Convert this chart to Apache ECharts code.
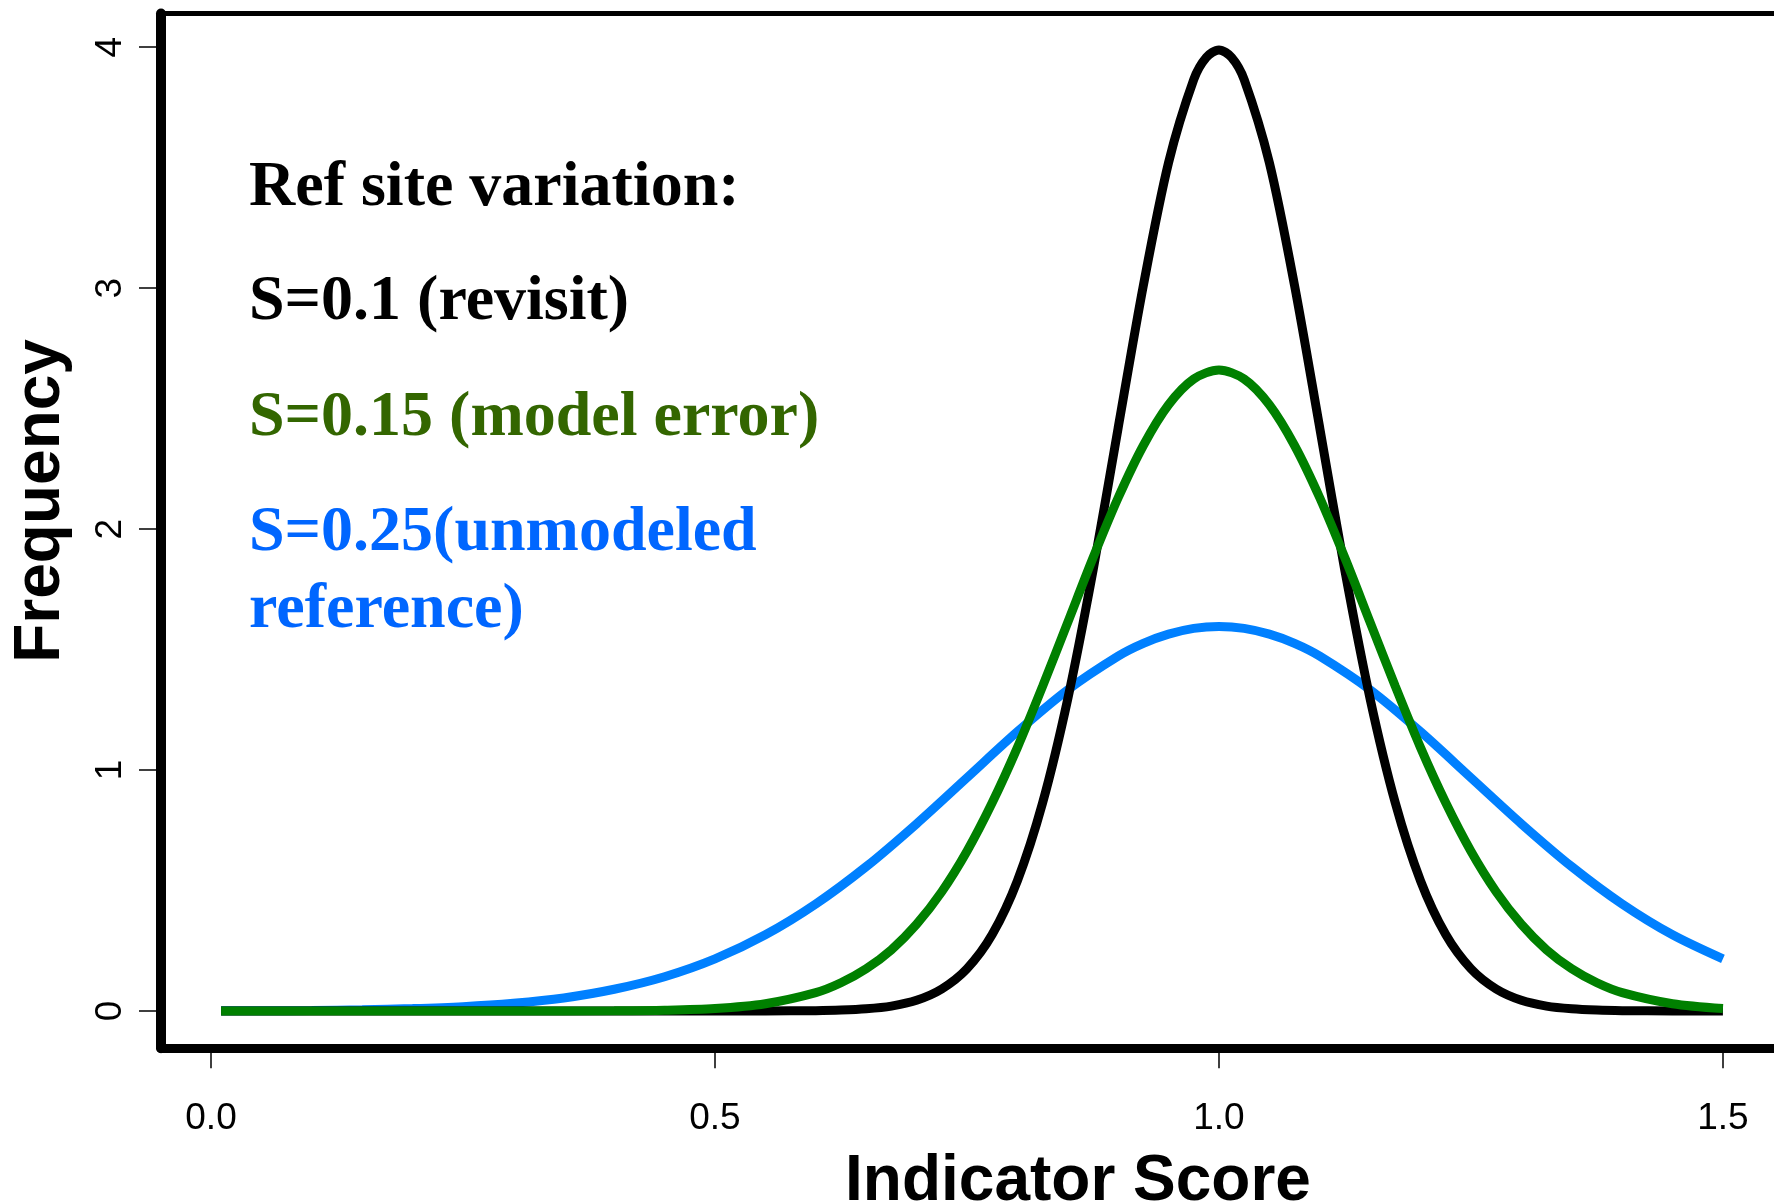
<!DOCTYPE html>
<html>
<head>
<meta charset="utf-8">
<script src="https://cdn.jsdelivr.net/npm/echarts@6/dist/echarts.min.js"></script>
<style>
html,body{margin:0;padding:0;background:#fff;}
#main{width:1774px;height:1201px;}
</style>
</head>
<body>
<div id="main"></div>
<script>
// ---- data ----
var xTicks = [0, 0.5, 1.0, 1.5];
var yTicks = [0, 1, 2, 3, 4];

// S = 0.25 (blue)
var blueX = [0.01, 0.05, 0.10, 0.15, 0.20, 0.25, 0.30, 0.35, 0.40, 0.45, 0.50, 0.55, 0.60, 0.65, 0.70, 0.75, 0.80, 0.85, 0.90, 0.925, 0.95, 0.975, 1.00,
             1.025, 1.05, 1.075, 1.10, 1.15, 1.20, 1.25, 1.30, 1.35, 1.40, 1.45, 1.50];
var blueY = [0.001, 0.001, 0.002, 0.005, 0.010, 0.018, 0.032, 0.054, 0.090, 0.142, 0.216, 0.316, 0.444, 0.599, 0.777, 0.968, 1.159, 1.333, 1.473, 1.526, 1.564, 1.588, 1.596,
             1.588, 1.564, 1.526, 1.473, 1.333, 1.159, 0.968, 0.777, 0.599, 0.444, 0.316, 0.216];

// S = 0.1 (black)
var blackX = [0.01, 0.10, 0.20, 0.30, 0.40, 0.50, 0.55, 0.60, 0.625, 0.65, 0.675, 0.70, 0.725, 0.75, 0.775, 0.80, 0.825, 0.85, 0.875, 0.90, 0.925, 0.95, 0.975, 0.9875, 1.00,
              1.0125, 1.025, 1.05, 1.075, 1.10, 1.125, 1.15, 1.175, 1.20, 1.225, 1.25, 1.275, 1.30, 1.325, 1.35, 1.375, 1.40, 1.45, 1.50];
var blackY = [0, 0, 0, 0, 0, 0, 0.0002, 0.0013, 0.0035, 0.0087, 0.020, 0.044, 0.091, 0.175, 0.317, 0.540, 0.863, 1.295, 1.826, 2.420, 3.011, 3.521, 3.866, 3.958, 3.989,
              3.958, 3.866, 3.521, 3.011, 2.420, 1.826, 1.295, 0.863, 0.540, 0.317, 0.175, 0.091, 0.044, 0.020, 0.0087, 0.0035, 0.0013, 0.0002, 0];

// S = 0.15 (green)
var greenX = [0.01, 0.10, 0.20, 0.30, 0.40, 0.45, 0.50, 0.55, 0.60, 0.625, 0.65, 0.675, 0.70, 0.725, 0.75, 0.775, 0.80, 0.825, 0.85, 0.875, 0.90, 0.925, 0.95, 0.975, 1.00,
              1.025, 1.05, 1.075, 1.10, 1.125, 1.15, 1.175, 1.20, 1.225, 1.25, 1.275, 1.30, 1.325, 1.35, 1.375, 1.40, 1.45, 1.50];
var greenY = [0, 0, 0, 0, 0.001, 0.003, 0.010, 0.030, 0.076, 0.117, 0.175, 0.254, 0.360, 0.495, 0.663, 0.864, 1.093, 1.347, 1.613, 1.880, 2.130, 2.347, 2.516, 2.623, 2.660,
              2.623, 2.516, 2.347, 2.130, 1.880, 1.613, 1.347, 1.093, 0.864, 0.663, 0.495, 0.360, 0.254, 0.175, 0.117, 0.076, 0.030, 0.010];

var annoLines = ['Ref site variation:', 'S=0.1 (revisit)', 'S=0.15 (model error)', 'S=0.25(unmodeled', 'reference)'];
var annoColors = ['#000000', '#000000', '#336600', '#0066ff', '#0066ff'];

function pairs(xs, ys) { return xs.map(function (x, i) { return [x, ys[i]]; }); }

var chart = echarts.init(document.getElementById('main'), null, {renderer: 'canvas'});

var annoY = [188, 302, 418, 533, 610];
var graphics = annoLines.map(function (t, i) {
  return {
    type: 'text', left: 249, top: annoY[i] - 32, z: 50,
    style: {
      text: t, fill: annoColors[i],
      font: 'bold 64px "Liberation Serif", "Times New Roman", serif'
    }
  };
});

var sansFont = '"Liberation Sans", Arial, Helvetica, sans-serif';

chart.setOption({
  animation: false,
  backgroundColor: '#ffffff',
  grid: {
    left: 161, top: 13.5, right: -9, bottom: 152.7,
    show: true, borderColor: '#000', borderWidth: 5, containLabel: false,
    outerBoundsMode: 'none'
  },
  graphic: graphics,
  xAxis: {
    type: 'value', min: -0.0496, max: 1.5596,
    splitLine: {show: false},
    axisLine: {show: true, onZero: false, lineStyle: {color: '#000', width: 9}},
    axisTick: {show: true, customValues: xTicks, length: 20, lineStyle: {color: '#000', width: 1.5}},
    axisLabel: {
      customValues: xTicks, margin: 52, color: '#000', fontSize: 37, fontFamily: sansFont,
      formatter: function (v) { return v.toFixed(1); }
    },
    name: 'Indicator Score', nameLocation: 'middle', nameGap: 102,
    nameTextStyle: {color: '#000', fontSize: 64, fontWeight: 'bold', fontFamily: sansFont, padding: [0, 0, 0, 212]}
  },
  yAxis: {
    type: 'value', min: -0.155, max: 4.14,
    splitLine: {show: false},
    axisLine: {show: true, onZero: false, lineStyle: {color: '#000', width: 10}},
    axisTick: {show: true, customValues: yTicks, length: 22, lineStyle: {color: '#000', width: 1.5}},
    axisLabel: {
      customValues: yTicks, margin: 32, rotate: 90, color: '#000', fontSize: 37, fontFamily: sansFont,
      formatter: function (v) { return String(v); }
    },
    name: 'Frequency', nameLocation: 'middle', nameGap: 88, nameRotate: 90,
    nameTextStyle: {color: '#000', fontSize: 64, fontWeight: 'bold', fontFamily: sansFont, padding: [0, 0, 0, 60]}
  },
  series: [
    {name: 'S=0.25', type: 'line', data: pairs(blueX, blueY), showSymbol: false, smooth: 0.3,
     lineStyle: {color: '#0080ff', width: 9}, clip: true},
    {name: 'S=0.1', type: 'line', data: pairs(blackX, blackY), showSymbol: false, smooth: 0.3,
     lineStyle: {color: '#000000', width: 9}, clip: true},
    {name: 'S=0.15', type: 'line', data: pairs(greenX, greenY), showSymbol: false, smooth: 0.3,
     lineStyle: {color: '#008000', width: 9}, clip: true}
  ]
});
</script>
</body>
</html>
